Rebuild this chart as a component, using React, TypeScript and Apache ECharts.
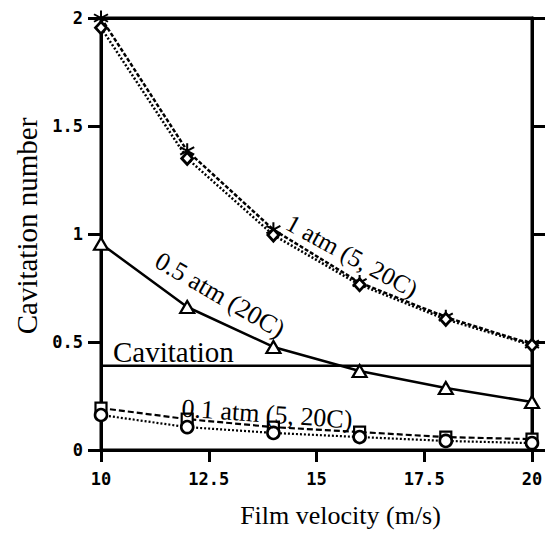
import React, { useEffect, useRef } from "react";
import * as echarts from "echarts";

const velocities = [10, 12, 14, 16, 18, 20];
const atm1_5C = [2.0, 1.385, 1.02, 0.775, 0.615, 0.49];
const atm1_20C = [1.955, 1.35, 0.995, 0.765, 0.605, 0.485];
const atm05_20C = [0.955, 0.662, 0.477, 0.366, 0.287, 0.222];
const atm01_5C = [0.194, 0.143, 0.106, 0.083, 0.06, 0.05];
const atm01_20C = [0.162, 0.106, 0.079, 0.06, 0.042, 0.032];
const cavitationLevel = 0.39;
const cavitationX = [10, 20.15];

const xTitle = "Film velocity (m/s)";
const yTitle = "Cavitation number";
const labelAtm1 = "1 atm (5, 20C)";
const labelAtm05 = "0.5 atm (20C)";
const labelAtm01 = "0.1 atm (5, 20C)";
const labelCav = "Cavitation";

const SERIF = '"Liberation Serif", "Times New Roman", serif';
const MONO = '"DejaVu Sans Mono", monospace';

const ASTERISK =
  "path://M10.5,24L13.5,24L13.5,0L10.5,0Z" +
  "M21.642,19.299L23.142,16.701L2.358,4.701L0.858,7.299Z" +
  "M0.858,16.701L2.358,19.299L23.142,7.299L21.642,4.701Z";

const pair = (ys: number[]) => velocities.map((x, i) => [x, ys[i]]);

export default function App() {
  const ref = useRef<HTMLDivElement>(null);
  useEffect(() => {
    if (!ref.current) return;
    const chart = echarts.init(ref.current, undefined, { renderer: "svg" });
    const mkLine = () => ({
      show: true,
      onZero: false,
      lineStyle: { color: "#000", width: 3, opacity: 1 },
    });
    const mkTick = () => ({ color: "#000", width: 3, opacity: 1 });
    const hollow = { color: "#fff", borderColor: "#000", borderWidth: 2.2 };
    const tickLabel = {
      color: "#000",
      fontFamily: MONO,
      fontWeight: "bold",
      fontSize: 17,
    };
    chart.setOption({
      animation: false,
      backgroundColor: "#fff",
      grid: {
        left: 101,
        top: 18,
        right: 20,
        bottom: 89,
        outerBoundsMode: "none",
        show: true,
        borderColor: "#000",
        borderWidth: 3,
        backgroundColor: "transparent",
      },
      xAxis: [
        {
          type: "value",
          position: "bottom",
          min: 10,
          max: 20,
          interval: 2.5,
          axisLine: mkLine(),
          axisTick: { show: true, length: 12, lineStyle: mkTick() },
          axisLabel: { ...tickLabel, margin: 20 },
          splitLine: { show: false },
          name: xTitle,
          nameLocation: "middle",
          nameGap: 52,
          nameTextStyle: {
            color: "#000",
            fontFamily: SERIF,
            fontSize: 26,
            padding: [0, 0, 0, 48],
          },
        },
        {
          type: "value",
          position: "top",
          min: 10,
          max: 20,
          interval: 2.5,
          axisLine: mkLine(),
          axisTick: { show: false },
          axisLabel: { show: false },
          splitLine: { show: false },
        },
      ],
      yAxis: [
        {
          type: "value",
          position: "left",
          min: 0,
          max: 2,
          interval: 0.5,
          axisLine: mkLine(),
          axisTick: { show: true, length: 13, lineStyle: mkTick() },
          axisLabel: { ...tickLabel, margin: 18 },
          splitLine: { show: false },
          name: yTitle,
          nameLocation: "middle",
          nameRotate: 90,
          nameGap: 56,
          nameTextStyle: {
            color: "#000",
            fontFamily: SERIF,
            fontSize: 29,
            padding: [0, 0, 0, 16],
          },
        },
        {
          type: "value",
          position: "right",
          min: 0,
          max: 2,
          interval: 0.5,
          axisLine: mkLine(),
          axisTick: { show: true, length: 13, lineStyle: mkTick() },
          axisLabel: { show: false },
          splitLine: { show: false },
        },
      ],
      series: [
        {
          type: "line",
          data: [[cavitationX[0], cavitationLevel], [cavitationX[1], cavitationLevel]],
          symbol: "none",
          clip: false,
          lineStyle: { color: "#000", width: 2.5 },
          z: 1,
        },
        {
          type: "line",
          data: pair(atm1_5C),
          symbol: ASTERISK,
          symbolSize: [15, 15],
          clip: false,
          itemStyle: { color: "#000" },
          lineStyle: { color: "#000", width: 2.5, type: [4, 2] },
          z: 2,
        },
        {
          type: "line",
          data: pair(atm1_20C),
          symbol: "diamond",
          symbolSize: [11, 12],
          clip: false,
          itemStyle: { ...hollow, borderWidth: 2.8 },
          lineStyle: { color: "#000", width: 2.5, type: [2, 2] },
          z: 3,
        },
        {
          type: "line",
          data: pair(atm05_20C),
          symbol: "triangle",
          symbolSize: [14, 12],
          clip: false,
          itemStyle: hollow,
          lineStyle: { color: "#000", width: 2.5 },
          z: 4,
        },
        {
          type: "line",
          data: pair(atm01_5C),
          symbol: "rect",
          symbolSize: 11,
          clip: false,
          itemStyle: hollow,
          lineStyle: { color: "#000", width: 2.2, type: [6, 3] },
          z: 5,
        },
        {
          type: "line",
          data: pair(atm01_20C),
          symbol: "circle",
          symbolSize: 12,
          clip: false,
          itemStyle: { ...hollow, borderWidth: 2.6 },
          lineStyle: { color: "#000", width: 2.2, type: [2, 2] },
          z: 6,
        },
      ],
      graphic: [
        {
          type: "text",
          x: 113,
          y: 352,
          z: 10,
          style: {
            text: labelCav,
            fill: "#000",
            font: `29px ${SERIF}`,
            textAlign: "left",
            textVerticalAlign: "middle",
          },
        },
        {
          type: "text",
          x: 352,
          y: 256,
          rotation: (-28.6 * Math.PI) / 180,
          z: 10,
          style: {
            text: labelAtm1,
            fill: "#000",
            font: `25px ${SERIF}`,
            textAlign: "center",
            textVerticalAlign: "middle",
          },
        },
        {
          type: "text",
          x: 220,
          y: 295,
          rotation: (-30 * Math.PI) / 180,
          z: 10,
          style: {
            text: labelAtm05,
            fill: "#000",
            font: `26px ${SERIF}`,
            textAlign: "center",
            textVerticalAlign: "middle",
          },
        },
        {
          type: "text",
          x: 267,
          y: 414,
          rotation: (-4 * Math.PI) / 180,
          z: 10,
          style: {
            text: labelAtm01,
            fill: "#000",
            font: `26px ${SERIF}`,
            textAlign: "center",
            textVerticalAlign: "middle",
          },
        },
      ],
    });
    return () => chart.dispose();
  }, []);
  return (
    <div
      ref={ref}
      style={{ position: "fixed", left: 0, top: 0, width: 552, height: 539, background: "#fff" }}
    />
  );
}
